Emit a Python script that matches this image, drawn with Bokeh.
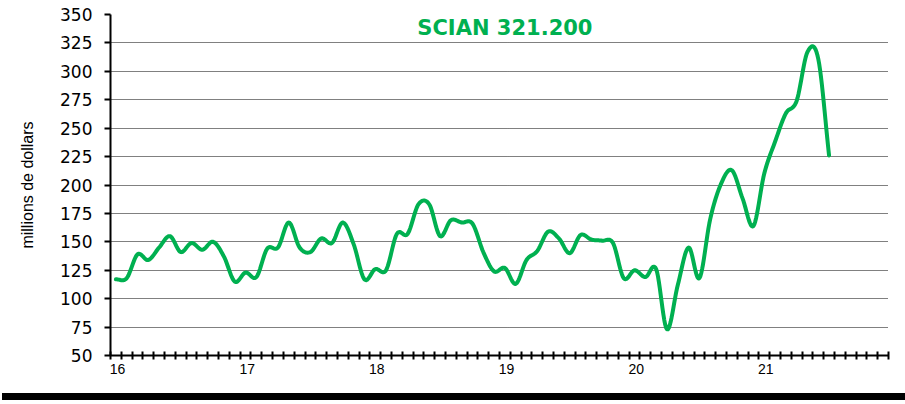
import numpy as np
from bokeh.plotting import figure
from bokeh.layouts import column
from bokeh.models import Range1d, FixedTicker, Label, Div
from bokeh.embed import file_html
from bokeh.resources import INLINE

# ---- data (millions de dollars, monthly, Jan 2016 .. Jul 2021) ----
v2016 = [117, 118, 139, 134, 145, 155, 141, 149, 143, 150, 137, 115]
v2017 = [123, 119, 144, 145, 167, 145, 141, 153, 149, 167, 148, 117]
v2018 = [126, 125, 157, 157, 183, 183, 155, 169, 167, 166, 141, 124]
v2019 = [127, 113, 134, 142, 159, 153, 140, 156, 152, 151, 149, 118]
v2020 = [125, 119, 126, 73, 112, 145, 118, 170, 201, 213, 188, 164]
v2021 = [210, 238, 263, 274, 317, 311, 226]
year_labels = ["16", "17", "18", "19", "20", "21"]
y_ticks = [50, 75, 100, 125, 150, 175, 200, 225, 250, 275, 300, 325, 350]
title_text = "SCIAN 321.200"
y_label = "millions de dollars"

values = np.array(v2016 + v2017 + v2018 + v2019 + v2020 + v2021, dtype=float)
months = np.arange(len(values), dtype=float)
n_slots = 12 * len(year_labels)

# smooth line (Catmull-Rom through the monthly points)
def smooth(x, y, steps=12):
    px = np.concatenate([[2 * x[0] - x[1]], x, [2 * x[-1] - x[-2]]])
    py = np.concatenate([[2 * y[0] - y[1]], y, [2 * y[-1] - y[-2]]])
    xs, ys = [], []
    t = np.linspace(0, 1, steps, endpoint=False)
    for i in range(1, len(px) - 2):
        for arr, out in ((px, xs), (py, ys)):
            p0, p1, p2, p3 = arr[i - 1], arr[i], arr[i + 1], arr[i + 2]
            out.extend(0.5 * (2 * p1 + (-p0 + p2) * t + (2 * p0 - 5 * p1 + 4 * p2 - p3) * t ** 2
                              + (-p0 + 3 * p1 - 3 * p2 + p3) * t ** 3))
    xs.append(x[-1]); ys.append(y[-1])
    return np.array(xs), np.array(ys)

sx, sy = smooth(months, values)

GREEN = "#00B050"

p = figure(width=905, height=393, output_backend="svg", toolbar_location=None,
           x_range=Range1d(-0.5, n_slots - 0.5), y_range=Range1d(50, 350),
           min_border_left=110, min_border_right=17, min_border_top=14, min_border_bottom=38)
p.outline_line_color = None
p.background_fill_color = "white"
p.border_fill_color = "white"

# grid
p.xgrid.grid_line_color = None
p.ygrid.ticker = FixedTicker(ticks=y_ticks[1:])
p.ygrid.grid_line_color = "black"
p.ygrid.grid_line_dash = "1 1"
p.ygrid.grid_line_width = 1

p.line(sx, sy, line_color=GREEN, line_width=4, line_join="round", line_cap="round")

# title inside the plot
p.add_layout(Label(x=36, y=338, text=title_text, text_align="center", text_baseline="middle",
                   text_font="DejaVu Sans", text_font_style="bold", text_font_size="21px",
                   text_color=GREEN))

# y axis
p.yaxis.ticker = FixedTicker(ticks=y_ticks)
p.yaxis.axis_line_width = 2
p.yaxis.axis_line_color = "black"
p.yaxis.major_tick_in = 0
p.yaxis.major_tick_out = 6
p.yaxis.major_tick_line_width = 2
p.yaxis.minor_tick_line_color = None
p.yaxis.major_label_standoff = 12
p.yaxis.major_label_text_font = "DejaVu Sans"
p.yaxis.major_label_text_font_size = "17px"
p.yaxis.major_label_text_color = "black"
p.yaxis.axis_label = y_label
p.yaxis.axis_label_text_font = "Liberation Sans"
p.yaxis.axis_label_text_font_size = "16px"
p.yaxis.axis_label_text_font_style = "normal"
p.yaxis.axis_label_text_color = "black"
p.yaxis.axis_label_standoff = 21

# x axis: tick marks at month boundaries (minor), year labels just right of each January boundary
bounds = [i - 0.5 for i in range(n_slots + 1)]
label_pos = [12 * k + 0.15 for k in range(len(year_labels))]
p.xaxis.ticker = FixedTicker(ticks=label_pos, minor_ticks=bounds)
p.xaxis.major_label_overrides = {pos: lab for pos, lab in zip(label_pos, year_labels)}
p.xaxis.major_tick_line_color = None
p.xaxis.minor_tick_line_color = "black"
p.xaxis.minor_tick_line_width = 2
p.xaxis.minor_tick_in = 4
p.xaxis.minor_tick_out = 4
p.xaxis.major_tick_in = 0
p.xaxis.major_tick_out = 4
p.xaxis.axis_line_width = 2
p.xaxis.axis_line_color = "black"
p.xaxis.major_label_standoff = 4
p.xaxis.major_label_text_font = "Liberation Sans"
p.xaxis.major_label_text_font_size = "14px"
p.xaxis.major_label_text_color = "black"

# thick black rule at the bottom
bar = Div(width=903, height=7, margin=(0, 0, 0, 2), styles={"background-color": "black"})

layout = column(p, bar, spacing=0)
open("out.html", "w").write(file_html(layout, INLINE))
